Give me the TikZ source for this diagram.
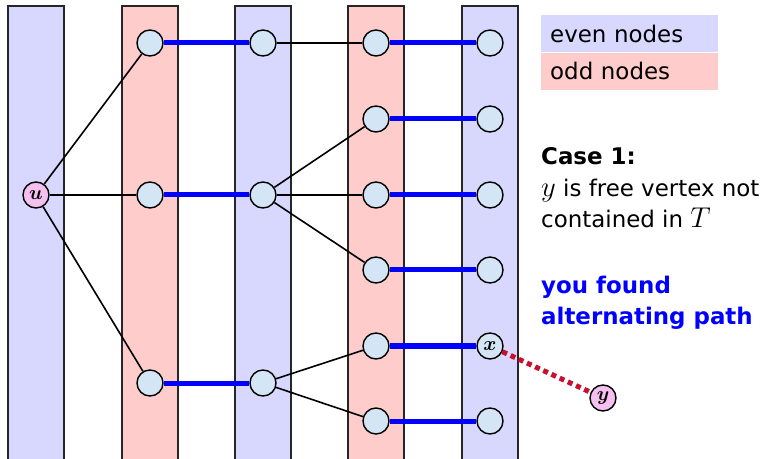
\RequirePackage{fix-cm}
\documentclass[tikz,border=0pt]{standalone}
\usepackage{amsmath}
\usepackage{fontspec}
\setmainfont{DejaVu Sans}
\usetikzlibrary{positioning}
\definecolor{evenfill}{RGB}{216,216,255}
\definecolor{oddfill}{RGB}{255,204,204}
\definecolor{vfill}{RGB}{212,230,245}
\definecolor{pinkfill}{RGB}{245,192,240}
\definecolor{pathblue}{RGB}{0,0,255}
\definecolor{dotred}{RGB}{200,16,46}
\newcommand{\mvar}[1]{\scalebox{1.25}{$#1$}}

\begin{document}
\begin{tikzpicture}
		[x=1bp,y=-1bp,
		vertex/.style={circle,draw,line width=1.4bp,fill=vfill,minimum size=26bp,inner sep=0pt,font=\fontsize{16}{16}\selectfont},
		special/.style={vertex,fill=pinkfill},
		stripe/.style={draw=black!85,line width=1.1bp},
		tree/.style={line width=1.6bp},
		matched/.style={line width=5bp,pathblue},
		legend/.style={rectangle,minimum width=177bp,minimum height=37bp,inner xsep=9bp,text width=159bp,align=left,font=\fontsize{23}{31}\selectfont},
		txt/.style={align=left,inner sep=0pt,font=\fontsize{23}{32}\selectfont}]
		\useasboundingbox (0,0) rectangle (769,459);
		
		\foreach \cx/\col in {36/evenfill,150/oddfill,263/evenfill,376/oddfill,490/evenfill}
		\draw[stripe,fill=\col] (\cx-28,6) rectangle (\cx+28,470);
		
		\node[special] (u) at (36,195) {\mvar{\boldsymbol{u}}};
		\node[vertex] (a1) at (150,43) {};
		\node[vertex] (a2) at (150,195) {};
		\node[vertex] (a3) at (150,383) {};
		\node[vertex] (b1) at (263,43) {};
		\node[vertex] (b2) at (263,195) {};
		\node[vertex] (b3) at (263,383) {};
		\node[vertex] (c1) at (376,43) {};
		\node[vertex] (c2) at (376,119) {};
		\node[vertex] (c3) at (376,195) {};
		\node[vertex] (c4) at (376,270) {};
		\node[vertex] (c5) at (376,346) {};
		\node[vertex] (c6) at (376,421) {};
		\node[vertex] (d1) at (490,43) {};
		\node[vertex] (d2) at (490,119) {};
		\node[vertex] (d3) at (490,195) {};
		\node[vertex] (d4) at (490,270) {};
		\node[vertex] (x) at (490,346) {\mvar{\boldsymbol{x}}};
		\node[vertex] (d6) at (490,421) {};
		\node[special] (y) at (603,398) {\mvar{\boldsymbol{y}}};
		
		\foreach \from/\to in
		{u/a1, u/a2, u/a3, b1/c1, b2/c2, b2/c3, b2/c4, b3/c5, b3/c6}
		\draw[tree] (\from) -- (\to);
		\foreach \from/\to in
		{a1/b1, a2/b2, a3/b3, c1/d1, c2/d2, c3/d3, c4/d4, c5/x, c6/d6}
		\draw[matched] (\from) -- (\to);
		\draw[line width=5bp,dotred,dash pattern=on 5bp off 4bp] (x) -- (y);
		
		\node[legend,fill=evenfill,anchor=north west] (even) at (541,15) {even nodes};
		\node[legend,fill=oddfill,anchor=north west] (odd) at (even.south west) {odd nodes};
		
		\node[txt,anchor=base west] (case) at (541,228) {\textbf{Case 1:}\\\mvar{y} is free vertex not\\contained in \mvar{T}};
		\node[txt,anchor=base west,text=pathblue,font=\fontsize{23}{32}\selectfont\bfseries] (found) at (541,325) {you found\\alternating path};
\end{tikzpicture}
\end{document}
